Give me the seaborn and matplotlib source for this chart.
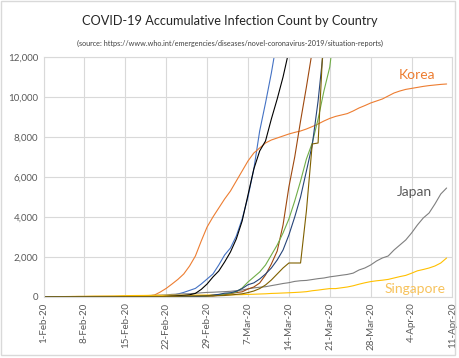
import pandas as pd
import matplotlib
matplotlib.use("Agg")
import matplotlib.pyplot as plt
from matplotlib.patches import Rectangle
import seaborn as sns

# daily counts, 1-Feb-20 .. 10-Apr-20
dates = pd.date_range("2020-02-01", "2020-04-10", freq="D")

korea = [12, 15, 15, 16, 16, 23, 24, 24, 25, 27,
         28, 28, 28, 28, 28, 29, 30, 31, 51, 100,
         250, 430, 650, 880, 1150, 1550, 2050, 2800, 3500, 4000,
         4450, 4900, 5300, 5800, 6300, 6800, 7200, 7450, 7700, 7850,
         7950, 8050, 8150, 8230, 8300, 8400, 8520, 8650, 8800, 8930,
         9030, 9100, 9170, 9300, 9450, 9570, 9700, 9800, 9900, 10050,
         10200, 10300, 10380, 10430, 10480, 10530, 10570, 10600, 10630, 10650]

japan = [17, 20, 20, 20, 20, 20, 25, 25, 25, 26,
         26, 28, 28, 29, 41, 53, 59, 65, 73, 85,
         93, 105, 132, 144, 157, 164, 186, 210, 230, 239,
         254, 268, 284, 317, 349, 408, 455, 488, 514, 568,
         620, 675, 716, 780, 814, 829, 873, 917, 950, 1007,
         1046, 1089, 1128, 1193, 1350, 1450, 1600, 1800, 1950, 2050,
         2350, 2600, 2850, 3200, 3600, 3950, 4200, 4650, 5150, 5450]

singapore = [13, 16, 18, 18, 24, 28, 30, 33, 40, 43,
             45, 47, 50, 58, 67, 72, 75, 77, 81, 84,
             85, 86, 89, 89, 90, 91, 93, 96, 98, 102,
             106, 108, 110, 112, 117, 130, 138, 150, 160, 178,
             187, 200, 212, 226, 243, 266, 313, 345, 385, 420,
             420, 460, 500, 560, 640, 710, 770, 810, 840, 880,
             950, 1020, 1080, 1189, 1309, 1375, 1450, 1550, 1700, 1950]

italy = [2, 2, 2, 2, 2, 2, 3, 3, 3, 3,
         3, 3, 3, 3, 3, 3, 3, 3, 3, 3,
         3, 20, 80, 150, 230, 330, 430, 650, 900, 1150,
         1600, 2100, 2450, 3050, 3900, 5000, 6400, 8300, 9700, 11200,
         12900, 15113, 17660, 21157, 24747, 27980, 31506, 35713, 41035, 47021,
         53578, 59138, 63927, 69176, 74386, 80539, 86498, 92472, 97689, 101739,
         105792, 110574, 115242, 119827, 124632, 128948, 132547, 135586, 139422, 143626]

iran = [0, 0, 0, 0, 0, 0, 0, 0, 0, 0,
        0, 0, 0, 0, 0, 0, 0, 0, 2, 5,
        18, 28, 43, 61, 80, 110, 180, 380, 650, 1000,
        1300, 1750, 2250, 2900, 3800, 5100, 6400, 7300, 7800, 8900,
        9900, 11000, 12300, 13938, 14991, 16169, 17361, 18407, 19644, 20610,
        21638, 23049, 24811, 27017, 29406, 32332, 35408, 38309, 41495, 44605,
        47593, 50468, 53183, 55743, 58226, 60500, 62589, 64586, 66220, 68192]

spain = [1, 1, 1, 1, 1, 1, 1, 1, 1, 2,
         2, 2, 2, 2, 2, 2, 2, 2, 2, 2,
         2, 2, 2, 2, 2, 6, 13, 15, 32, 45,
         84, 120, 165, 222, 259, 400, 500, 700, 1100, 1650,
         2300, 3600, 5500, 7000, 8800, 10500, 12300, 17147, 19980, 24926,
         28572, 33089, 39673, 47610, 56188, 64059, 72248, 78797, 85195, 94417,
         102136, 110238, 117710, 124736, 130759, 135032, 140510, 146690, 152446, 157022]

germany = [8, 8, 10, 12, 12, 12, 13, 14, 14, 14,
           14, 16, 16, 16, 16, 16, 16, 16, 16, 16,
           16, 16, 16, 16, 16, 18, 21, 26, 53, 66,
           117, 150, 188, 250, 450, 750, 1000, 1250, 1600, 2100,
           2600, 3200, 3900, 4800, 5800, 6900, 7700, 8900, 10300, 11500,
           13957, 18323, 21463, 24873, 29056, 31554, 36508, 42288, 48582, 52547,
           57298, 61913, 67366, 73522, 79696, 85778, 91714, 95391, 99225, 103228]

france = [6, 6, 6, 6, 6, 6, 6, 6, 11, 11,
          11, 11, 11, 11, 12, 12, 12, 12, 12, 12,
          12, 12, 12, 12, 12, 14, 18, 38, 57, 100,
          130, 190, 212, 285, 420, 613, 706, 900, 1150, 1450,
          1850, 2350, 3100, 4000, 5000, 6300, 7600, 9800, 12600, 14300,
          16000, 19600, 22300, 25200, 29200, 32500, 37100, 40200, 44500, 51100,
          56900, 64300, 68600, 70500, 74400, 78200, 82000, 86300, 90000, 90700]

usa = [6, 6, 8, 11, 11, 11, 12, 12, 12, 12,
       12, 13, 13, 13, 15, 15, 15, 15, 15, 15,
       15, 35, 35, 35, 53, 53, 59, 60, 62, 62,
       64, 75, 100, 130, 160, 220, 300, 420, 600, 850,
       1150, 1450, 1700, 1700, 1700, 4300, 7650, 7700, 13500, 19100,
       26700, 35000, 46400, 55200, 69200, 85200, 103300, 122700, 140600, 164600,
       188200, 213400, 239300, 277200, 307300, 333800, 363300, 395000, 427500, 462000]

countries = ["Italy", "Korea", "Japan", "Singapore", "Iran",
             "Spain", "Germany", "France", "USA"]
colors = ["#4472C4", "#ED7D31", "#7F7F7F", "#FFC000", "#000000",
          "#9E480E", "#70AD47", "#264478", "#7F6000"]

tick_dates = pd.date_range("2020-02-01", "2020-04-11", freq="7D")
tick_labels = ["1-Feb-20", "8-Feb-20", "15-Feb-20", "22-Feb-20", "29-Feb-20",
               "7-Mar-20", "14-Mar-20", "21-Mar-20", "28-Mar-20", "4-Apr-20",
               "11-Apr-20"]
yticks = [0, 2000, 4000, 6000, 8000, 10000, 12000]

wide = pd.DataFrame({"date": dates, "Italy": italy, "Korea": korea, "Japan": japan,
                     "Singapore": singapore, "Iran": iran, "Spain": spain,
                     "Germany": germany, "France": france, "USA": usa})
df = wide.melt(id_vars="date", var_name="country", value_name="cases")

sns.set_style("white")
plt.rcParams["font.family"] = ["Lato", "DejaVu Sans"]

fig = plt.figure(figsize=(4.6, 3.58), dpi=100)
ax = fig.add_axes([0.0946, 0.1704, 0.889, 0.6704])

sns.lineplot(data=df, x="date", y="cases", hue="country", hue_order=countries,
             palette=dict(zip(countries, colors)), legend=False, linewidth=0.8, ax=ax)

ax.set_xlim(pd.Timestamp("2020-02-01"), pd.Timestamp("2020-04-11"))
ax.set_ylim(0, 12000)
ax.set_xticks(tick_dates)
ax.set_xticklabels(tick_labels, rotation=90)
ax.set_yticks(yticks)
ax.set_yticklabels([f"{v:,}" for v in yticks])
ax.set_xlabel("")
ax.set_ylabel("")
ax.grid(True, color="#D9D9D9", linewidth=0.8)
ax.set_axisbelow(True)
for s in ax.spines.values():
    s.set_color("#D9D9D9")
    s.set_linewidth(0.8)
ax.tick_params(length=0, labelsize=7, colors="#595959", pad=4)

ax.text(0.913, 0.925, "Korea", transform=ax.transAxes, ha="center", va="center",
        fontsize=10, color="#ED7D31")
ax.text(0.908, 0.4375, "Japan", transform=ax.transAxes, ha="center", va="center",
        fontsize=10, color="#595959")
ax.text(0.908, 0.035, "Singapore", transform=ax.transAxes, ha="center", va="center",
        fontsize=10, color="#F7C25B")

fig.text(0.5, 1 - 20.7 / 358, "COVID-19 Accumulative Infection Count by Country",
         ha="center", va="center", fontsize=9.2, color="#262626")
fig.text(0.5, 1 - 43 / 358,
         "(source: https://www.who.int/emergencies/diseases/novel-coronavirus-2019/situation-reports)",
         ha="center", va="center", fontsize=5.2, color="#404040")

fig.patches.append(Rectangle((0.002, 0.008), 0.987, 0.989, transform=fig.transFigure,
                             fill=False, edgecolor="#D9D9D9", linewidth=1.0))

fig.savefig("out.png", dpi=100)
